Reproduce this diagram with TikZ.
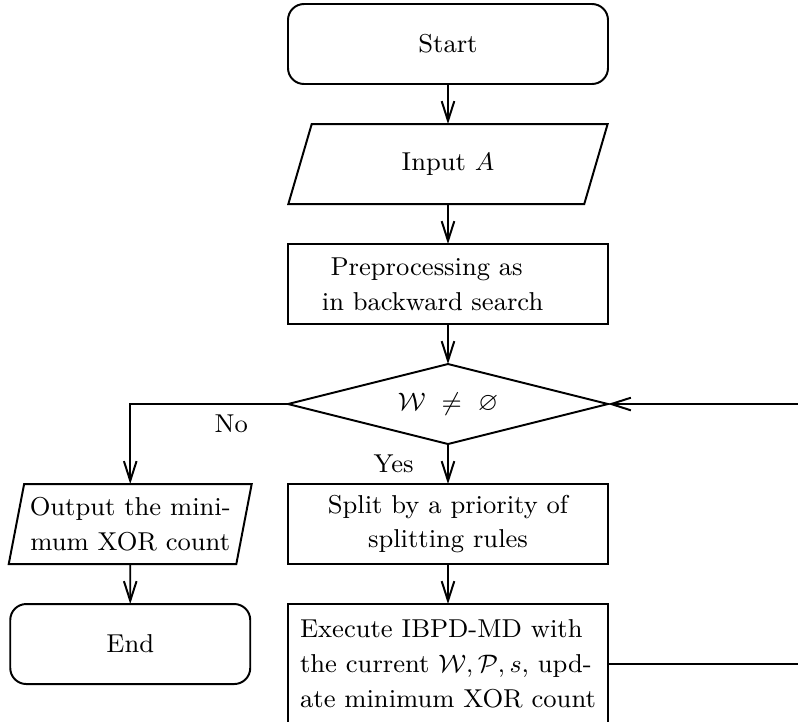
\documentclass[tikz,border=0pt]{standalone}
\usepackage{amssymb}
\usetikzlibrary{shapes.geometric, arrows.meta, positioning}

\begin{document}
\begin{tikzpicture}[node distance=5mm, >={Straight Barb[length=7pt,width=4.5pt]}, line width=0.7pt,
  font=\fontsize{9.2}{12.4}\selectfont]
  \tikzset{
    base/.style={draw, minimum width=4cm, minimum height=1cm, outer sep=0pt, align=center},
    terminal/.style={base, rounded corners=2mm},
    process/.style={base, rectangle},
    io/.style={base, trapezium, trapezium left angle=77, trapezium right angle=103, trapezium stretches=true},
    decision/.style={base, diamond, aspect=4, inner sep=1pt}
  }
  \clip (0,0) rectangle (9.975,-9.025);

  % Main column
  \node[terminal] (start) at (5.6,-0.55) {Start};
  \node[io, below=of start] (input) {Input $A$};
  \node[process, below=of input, text width=3.15cm, align=left] (pre) {\ Preprocessing as\\ in backward search};
  \node[decision, below=of pre] (check) {$\mathcal{W}\ \neq\ \varnothing$};
  \node[process, below=of check] (split) {Split by a priority of\\ splitting rules};
  \node[process, below=of split, minimum height=1.5cm, align=left] (exec) {Execute IBPD-MD with\\ the current $\mathcal{W},\mathcal{P},s$, upd-\\ ate minimum XOR count};

  % Exit branch
  \node[io, left=5.5mm of split, minimum width=3cm, inner xsep=2pt, trapezium left angle=78, trapezium right angle=102] (output) {Output the mini-\\ mum XOR count};
  \node[terminal, below=of output, minimum width=3cm] (end) {End};

  % Connections
  \coordinate (loop) at (10.3,-5.03);
  \draw[->] (start) -- (input);
  \draw[->] (input) -- (pre);
  \draw[->] (pre) -- (check);
  \draw[->] (check) -- node[left=3mm] {Yes} (split);
  \draw[->] (split) -- (exec);
  \draw[->] (check.west) -| node[below, pos=0.18] {No} (output.north);
  \draw[->] (output) -- (end);
  \draw[->] (exec.east) -| (loop) |- (check.east);
\end{tikzpicture}
\end{document}
